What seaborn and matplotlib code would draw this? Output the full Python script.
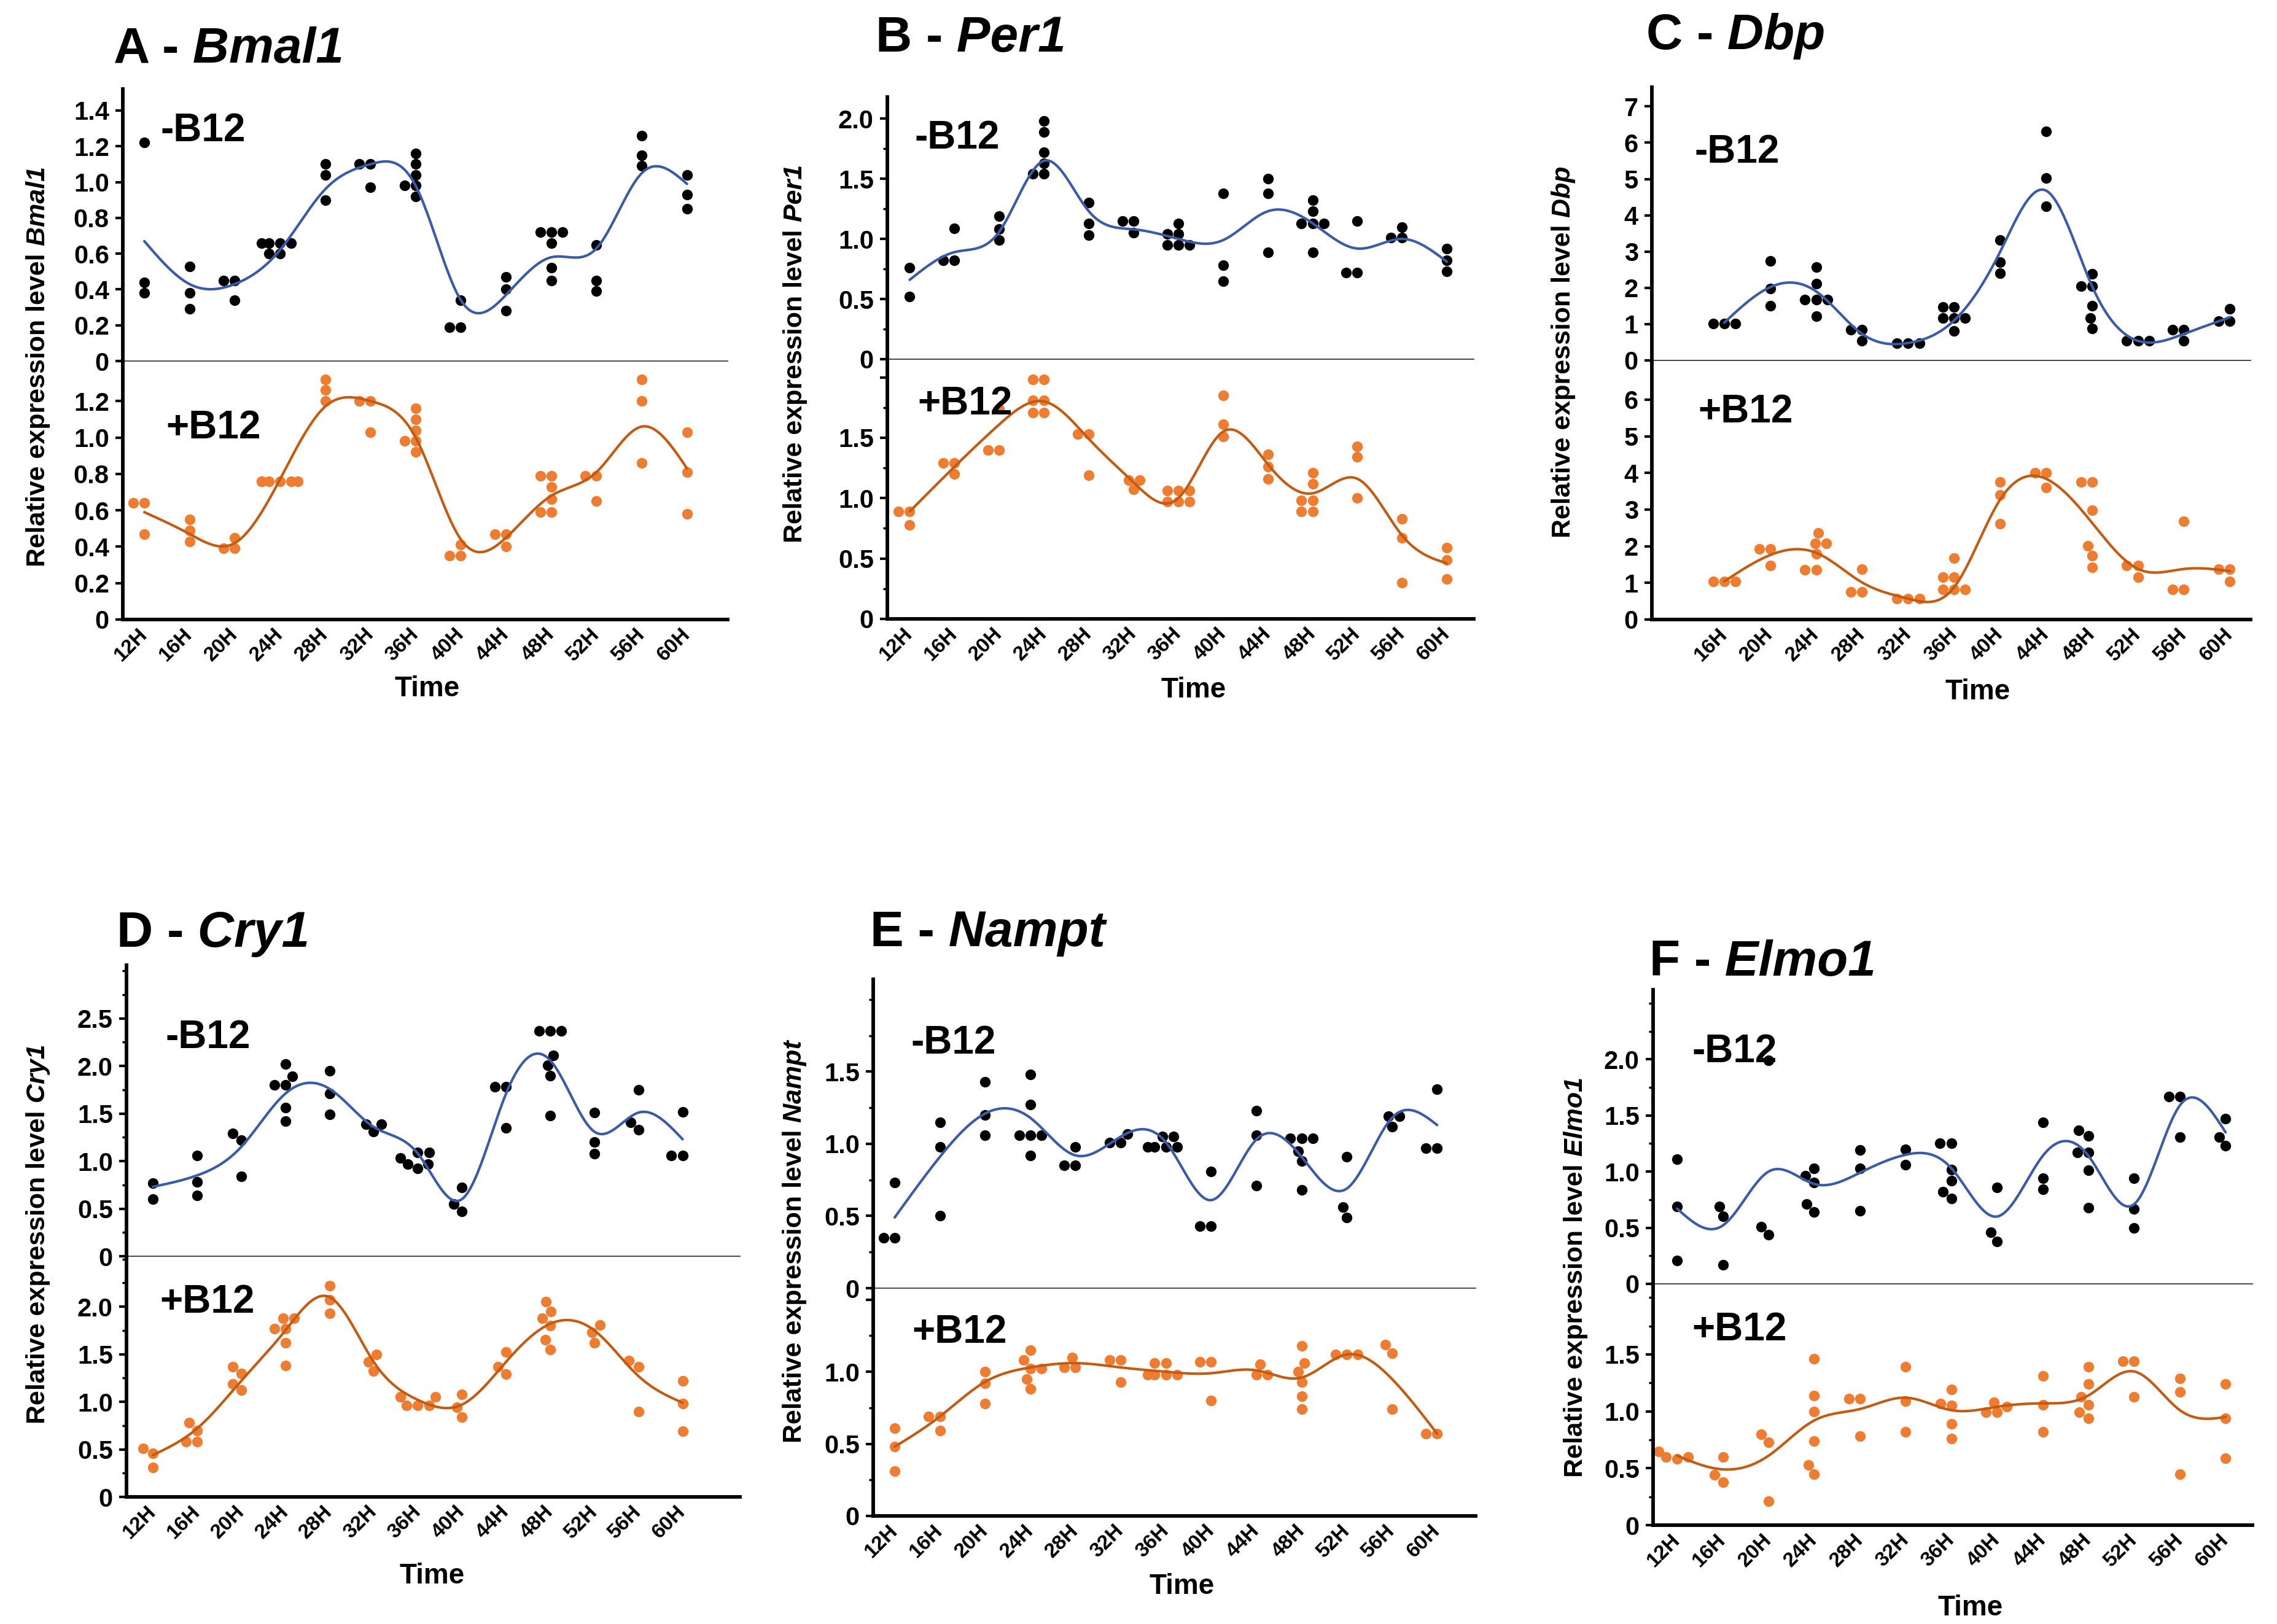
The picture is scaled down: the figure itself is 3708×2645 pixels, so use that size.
import numpy as np
import pandas as pd
import matplotlib
matplotlib.use('Agg')
import matplotlib.pyplot as plt
import seaborn as sns
from matplotlib.transforms import IdentityTransform
from matplotlib.ticker import FixedLocator, FuncFormatter, MultipleLocator

# sampling times (hours)
hours = [12, 16, 20, 24, 28, 32, 36, 40, 44, 48, 52, 56, 60]
hours_dbp = [16, 20, 24, 28, 32, 36, 40, 44, 48, 52, 56, 60]

# ---- A - Bmal1 ----
bmal1_minus = [[1.22, 0.44, 0.38], [0.53, 0.38, 0.29], [0.45, 0.45, 0.34],
               [0.66, 0.66, 0.66, 0.66, 0.60, 0.60], [1.10, 1.04, 0.90], [1.10, 1.10, 0.97],
               [1.16, 1.10, 1.04, 0.98, 0.98, 0.92], [0.34, 0.19, 0.19], [0.47, 0.40, 0.28],
               [0.72, 0.72, 0.72, 0.66, 0.52, 0.45], [0.65, 0.45, 0.39], [1.26, 1.15, 1.09],
               [1.04, 0.93, 0.85]]
bmal1_minus_fit = [0.67, 0.43, 0.43, 0.62, 0.96, 1.10, 0.98, 0.34, 0.37, 0.58, 0.63, 1.05, 0.99]
bmal1_plus = [[0.64, 0.64, 0.47], [0.55, 0.49, 0.43], [0.45, 0.39, 0.39],
              [0.76, 0.76, 0.76, 0.76, 0.76, 0.76], [1.32, 1.26, 1.20], [1.20, 1.20, 1.03],
              [1.16, 1.10, 1.04, 0.98, 0.98, 0.92], [0.41, 0.35, 0.35], [0.47, 0.47, 0.40],
              [0.79, 0.79, 0.73, 0.66, 0.59, 0.59], [0.79, 0.79, 0.65], [1.32, 1.20, 0.86],
              [1.03, 0.81, 0.58]]
bmal1_plus_fit = [0.59, 0.47, 0.42, 0.77, 1.17, 1.20, 1.00, 0.44, 0.45, 0.68, 0.81, 1.06, 0.83]

# ---- B - Per1 ----
per1_minus = [[0.76, 0.52], [1.09, 0.82, 0.82], [1.19, 1.08, 0.99],
              [1.98, 1.89, 1.72, 1.63, 1.54, 1.54], [1.30, 1.13, 1.03], [1.15, 1.15, 1.05],
              [1.13, 1.04, 1.04, 0.95, 0.95, 0.95], [1.38, 0.78, 0.65], [1.50, 1.38, 0.89],
              [1.32, 1.23, 1.13, 1.13, 1.13, 0.89], [1.15, 0.72, 0.72], [1.10, 1.01, 1.01],
              [0.92, 0.82, 0.73]]
per1_minus_fit = [0.66, 0.89, 1.06, 1.65, 1.23, 1.08, 1.00, 0.99, 1.23, 1.13, 0.92, 1.00, 0.81]
per1_plus = [[0.89, 0.89, 0.78], [1.29, 1.29, 1.20], [1.74, 1.40, 1.40],
             [1.98, 1.98, 1.81, 1.81, 1.71, 1.71], [1.53, 1.53, 1.19], [1.15, 1.15, 1.07],
             [1.06, 1.06, 1.06, 0.97, 0.97, 0.97], [1.85, 1.61, 1.51], [1.36, 1.26, 1.16],
             [1.21, 1.12, 0.98, 0.98, 0.89, 0.89], [1.43, 1.34, 1.00], [0.83, 0.67, 0.30],
             [0.59, 0.49, 0.33]]
per1_plus_fit = [0.89, 1.26, 1.61, 1.80, 1.49, 1.13, 1.00, 1.55, 1.28, 1.04, 1.16, 0.69, 0.46]

# ---- C - Dbp ----
dbp_minus = [[1.02, 1.02, 1.02], [2.74, 1.98, 1.51], [2.58, 2.11, 1.67, 1.67, 1.67, 1.22],
             [0.85, 0.85, 0.54], [0.48, 0.48, 0.48], [1.48, 1.48, 1.17, 1.17, 1.17, 0.82],
             [3.32, 2.70, 2.40], [6.31, 5.03, 4.25], [2.38, 2.04, 2.04, 1.51, 1.17, 0.88],
             [0.54, 0.54, 0.54], [0.85, 0.85, 0.54], [1.42, 1.08, 1.08]]
dbp_minus_fit = [1.04, 2.02, 1.90, 0.73, 0.48, 1.10, 2.99, 4.68, 2.05, 0.54, 0.73, 1.19]
dbp_plus = [[1.04, 1.04, 1.04], [1.92, 1.92, 1.47], [2.36, 2.08, 2.08, 1.79, 1.35, 1.35],
            [1.37, 0.75, 0.75], [0.57, 0.57, 0.57], [1.67, 1.16, 1.16, 0.82, 0.82, 0.82],
            [3.75, 3.40, 2.62], [4.01, 4.01, 3.61], [3.76, 3.76, 2.99, 2.01, 1.74, 1.42],
            [1.47, 1.47, 1.16], [2.68, 0.82, 0.82], [1.37, 1.37, 1.04]]
dbp_plus_fit = [1.04, 1.76, 1.82, 1.01, 0.57, 0.88, 3.27, 3.84, 2.64, 1.38, 1.38, 1.32]

# ---- D - Cry1 ----
cry1_minus = [[0.77, 0.60], [1.06, 0.78, 0.64], [1.29, 1.22, 0.84],
              [2.02, 1.89, 1.80, 1.80, 1.56, 1.42], [1.95, 1.71, 1.49], [1.39, 1.39, 1.31],
              [1.09, 1.09, 1.03, 0.97, 0.97, 0.92], [0.72, 0.55, 0.47], [1.78, 1.78, 1.35],
              [2.37, 2.37, 2.37, 2.11, 2.01, 1.90, 1.48], [1.51, 1.20, 1.08], [1.75, 1.41, 1.33],
              [1.52, 1.06, 1.06]]
cry1_minus_fit = [0.73, 0.85, 1.15, 1.71, 1.76, 1.36, 1.08, 0.60, 1.71, 2.06, 1.31, 1.51, 1.23]
cry1_plus = [[0.51, 0.46, 0.31], [0.78, 0.70, 0.58, 0.58], [1.37, 1.30, 1.19, 1.12],
             [1.88, 1.88, 1.77, 1.77, 1.62, 1.38], [2.22, 2.07, 1.93], [1.50, 1.42, 1.32],
             [1.05, 1.05, 1.05, 0.96, 0.96, 0.96], [1.08, 0.94, 0.84], [1.52, 1.37, 1.29],
             [2.05, 1.95, 1.88, 1.80, 1.65, 1.55], [1.81, 1.73, 1.62], [1.43, 1.37, 0.90],
             [1.22, 0.98, 0.69]]
cry1_plus_fit = [0.44, 0.72, 1.22, 1.75, 2.10, 1.42, 1.02, 0.97, 1.42, 1.82, 1.75, 1.27, 0.99]

# ---- E - Nampt ----
nampt_minus = [[0.73, 0.35, 0.35], [1.15, 0.98, 0.50], [1.43, 1.20, 1.06],
               [1.48, 1.27, 1.06, 1.06, 1.06, 0.92], [0.98, 0.85, 0.85], [1.07, 1.01, 1.01],
               [1.05, 1.05, 0.98, 0.98, 0.98, 0.98], [0.81, 0.43, 0.43], [1.23, 1.06, 0.71],
               [1.04, 1.04, 1.04, 0.95, 0.88, 0.68], [0.91, 0.56, 0.49], [1.19, 1.19, 1.12],
               [1.38, 0.97, 0.97]]
nampt_minus_fit = [0.49, 0.91, 1.21, 1.18, 0.92, 1.05, 1.01, 0.61, 1.03, 0.91, 0.69, 1.18, 1.13]
nampt_plus = [[0.61, 0.48, 0.31], [0.69, 0.69, 0.59], [1.00, 0.92, 0.78],
              [1.15, 1.08, 1.02, 1.02, 0.95, 0.88], [1.10, 1.03, 1.03], [1.08, 1.08, 0.93],
              [1.06, 1.06, 0.98, 0.98, 0.98, 0.98], [1.07, 1.07, 0.80], [1.05, 0.98, 0.98],
              [1.18, 1.06, 1.00, 0.93, 0.83, 0.74], [1.12, 1.12, 1.12], [1.19, 1.13, 0.74],
              [0.57, 0.57]]
nampt_plus_fit = [0.48, 0.69, 0.93, 1.03, 1.06, 1.03, 1.00, 0.99, 1.01, 0.96, 1.12, 0.95, 0.57]

# ---- F - Elmo1 ----
elmo1_minus = [[1.11, 0.69, 0.21], [0.69, 0.60, 0.17], [1.99, 0.51, 0.44],
               [1.03, 0.96, 0.90, 0.71, 0.64], [1.19, 1.03, 0.65], [1.20, 1.06],
               [1.25, 1.25, 1.02, 0.92, 0.82, 0.76], [0.86, 0.46, 0.38], [1.44, 0.94, 0.84],
               [1.37, 1.32, 1.17, 1.17, 1.01, 0.68], [0.94, 0.67, 0.50], [1.67, 1.67, 1.31],
               [1.47, 1.31, 1.23]]
elmo1_minus_fit = [0.67, 0.52, 1.00, 0.89, 0.99, 1.15, 1.03, 0.60, 1.14, 1.14, 0.71, 1.59, 1.35]
elmo1_plus = [[0.65, 0.60, 0.60, 0.58], [0.60, 0.44, 0.38], [0.80, 0.73, 0.21],
              [1.46, 1.14, 1.00, 0.74, 0.53, 0.45], [1.11, 1.11, 0.78], [1.39, 1.09, 0.82],
              [1.19, 1.07, 1.05, 0.89, 0.76], [1.08, 1.04, 0.99, 0.99], [1.31, 1.06, 0.82],
              [1.39, 1.24, 1.13, 1.06, 0.99, 0.94], [1.44, 1.44, 1.13], [1.29, 1.17, 0.45],
              [1.24, 0.94, 0.59]]
elmo1_plus_fit = [0.61, 0.49, 0.61, 0.92, 1.02, 1.12, 1.01, 1.04, 1.07, 1.14, 1.35, 1.01, 0.95]

panels = [
    ('A', 'Bmal1', hours, bmal1_minus, bmal1_minus_fit, bmal1_plus, bmal1_plus_fit),
    ('B', 'Per1', hours, per1_minus, per1_minus_fit, per1_plus, per1_plus_fit),
    ('C', 'Dbp', hours_dbp, dbp_minus, dbp_minus_fit, dbp_plus, dbp_plus_fit),
    ('D', 'Cry1', hours, cry1_minus, cry1_minus_fit, cry1_plus, cry1_plus_fit),
    ('E', 'Nampt', hours, nampt_minus, nampt_minus_fit, nampt_plus, nampt_plus_fit),
    ('F', 'Elmo1', hours, elmo1_minus, elmo1_minus_fit, elmo1_plus, elmo1_plus_fit),
]

# layout in output pixels: axes box (left, top, right, zero line, bottom), x limits,
# y limits / ticks for the upper and lower halves, text anchors
layout = {
    'A': dict(box=(200, 145, 1185, 588, 1009), xlim=(10.1, 63.6),
              top=(1.52, [0, .2, .4, .6, .8, 1.0, 1.2, 1.4]), bot=(1.42, [0, .2, .4, .6, .8, 1.0, 1.2]),
              hide=[], minor=None, dec=1, title=(185, 102), ylab=(62, 597), time=(696, 1122),
              minus=(262, 213), plus=(270, 697)),
    'B': dict(box=(1445, 158, 2400, 585, 1008), xlim=(10.0, 62.4),
              top=(2.18, [0, .5, 1.0, 1.5, 2.0]), bot=(2.15, [0, .5, 1.0, 1.5, 2.0]),
              hide=[2.0], minor=0.25, dec=1, title=(1426, 84), ylab=(1295, 576), time=(1944, 1124),
              minus=(1490, 225), plus=(1494, 658)),
    'C': dict(box=(2690, 142, 3665, 587, 1009), xlim=(9.7, 61.8),
              top=(7.53, [0, 1, 2, 3, 4, 5, 6, 7]), bot=(7.07, [0, 1, 2, 3, 4, 5, 6]),
              hide=[], minor=None, dec=0, title=(2681, 80), ylab=(2546, 573), time=(3221, 1127),
              minus=(2760, 248), plus=(2765, 671)),
    'D': dict(box=(206, 1572, 1205, 2046, 2438), xlim=(9.6, 65.2),
              top=(3.06, [0, .5, 1.0, 1.5, 2.0, 2.5]), bot=(2.53, [0, .5, 1.0, 1.5, 2.0]),
              hide=[], minor=0.25, dec=1, title=(190, 1542), ylab=(62, 2010), time=(704, 2567),
              minus=(269, 1690), plus=(260, 2121)),
    'E': dict(box=(1422, 1595, 2403, 2098, 2469), xlim=(10.1, 63.4),
              top=(2.14, [0, .5, 1.0, 1.5]), bot=(1.58, [0, .5, 1.0, 1.5]),
              hide=[1.5], minor=0.25, dec=1, title=(1417, 1541), ylab=(1294, 2022), time=(1925, 2584),
              minus=(1484, 1699), plus=(1485, 2170)),
    'F': dict(box=(2692, 1612, 3668, 2091, 2484), xlim=(9.9, 62.35),
              top=(2.62, [0, .5, 1.0, 1.5, 2.0]), bot=(2.12, [0, .5, 1.0, 1.5]),
              hide=[], minor=0.25, dec=1, title=(2686, 1589), ylab=(2566, 2080), time=(3209, 2619),
              minus=(2755, 1713), plus=(2755, 2166)),
}

BLUE = '#3A5BA9'
ORANGE_LINE = '#C55A11'
ORANGE_DOT = '#EE7D31'

sns.set_style('white')
plt.rcParams['font.family'] = ['Liberation Sans', 'DejaVu Sans']
plt.rcParams['font.weight'] = 'bold'
for key in ('text.color', 'axes.labelcolor', 'xtick.color', 'ytick.color', 'axes.edgecolor'):
    plt.rcParams[key] = 'black'

W, H = 3708, 2645
fig = plt.figure(figsize=(W / 100, H / 100), dpi=100)
PX = IdentityTransform()


def px_axes(left, top, right, bottom):
    return fig.add_axes([left / W, 1 - bottom / H, (right - left) / W, (bottom - top) / H])


def to_frame(hrs, groups):
    rows = [(h, v) for h, g in zip(hrs, groups) for v in g]
    return pd.DataFrame(rows, columns=['hour', 'value'])


def smooth(x, y, xs):
    # natural cubic spline through the fitted values
    x = np.asarray(x, float)
    y = np.asarray(y, float)
    n = len(x)
    h = np.diff(x)
    A = np.zeros((n, n))
    r = np.zeros(n)
    A[0, 0] = A[-1, -1] = 1
    for i in range(1, n - 1):
        A[i, i - 1], A[i, i], A[i, i + 1] = h[i - 1], 2 * (h[i - 1] + h[i]), h[i]
        r[i] = 3 * ((y[i + 1] - y[i]) / h[i] - (y[i] - y[i - 1]) / h[i - 1])
    c = np.linalg.solve(A, r)
    b = (y[1:] - y[:-1]) / h - h * (2 * c[:-1] + c[1:]) / 3
    d = (c[1:] - c[:-1]) / (3 * h)
    k = np.clip(np.searchsorted(x, xs, side='right') - 1, 0, n - 2)
    t = xs - x[k]
    return y[k] + b[k] * t + c[k] * t ** 2 + d[k] * t ** 3


def mixed_text(x, y, parts, size, vertical=False):
    r = fig.canvas.get_renderer()
    objs = []
    for s, st in parts:
        objs.append(fig.text(0, 0, s, fontsize=size, fontweight='bold', fontstyle=st,
                             transform=PX, rotation=90 if vertical else 0,
                             ha='center' if vertical else 'left',
                             va='bottom' if vertical else 'baseline'))
    ext = [o.get_window_extent(r) for o in objs]
    if vertical:
        sizes = [e.height for e in ext]
        pos = (H - y) - sum(sizes) / 2
        for o, s in zip(objs, sizes):
            o.set_position((x, pos))
            pos += s
    else:
        sizes = [e.width for e in ext]
        pos = x
        for o, s in zip(objs, sizes):
            o.set_position((pos, H - y))
            pos += s


def style_y(ax, lim, ticks, hide, minor, dec):
    ax.set_ylim(0, lim)
    ax.yaxis.set_major_locator(FixedLocator(ticks))

    def fmt(v, _):
        if any(abs(v - hv) < 1e-6 for hv in hide):
            return ''
        if abs(v) < 1e-9:
            return '0'
        return f'{v:.{dec}f}'
    ax.yaxis.set_major_formatter(FuncFormatter(fmt))
    if minor:
        ax.yaxis.set_minor_locator(MultipleLocator(minor))
        ax.tick_params(axis='y', which='minor', left=True, direction='out', length=5, width=2.5)
    ax.tick_params(axis='y', which='major', left=True, direction='out', length=9, width=3,
                   labelsize=30, pad=7)
    ax.spines['left'].set_linewidth(4.2)
    ax.spines['right'].set_visible(False)
    ax.spines['top'].set_visible(False)
    ax.set_xlabel('')
    ax.set_ylabel('')
    ax.patch.set_alpha(0)


for letter, gene, hrs, minus, minus_fit, plus, plus_fit in panels:
    cfg = layout[letter]
    L, T, R, Z, B = cfg['box']
    ax_t = px_axes(L, T, R, Z)
    ax_b = px_axes(L, Z, R, B)
    xs = np.linspace(hrs[0], hrs[-1], 500)

    sns.swarmplot(data=to_frame(hrs, minus), x='hour', y='value', native_scale=True,
                  color='black', size=12.5, linewidth=0, warn_thresh=1, ax=ax_t, zorder=2)
    sns.lineplot(x=xs, y=smooth(hrs, minus_fit, xs), color=BLUE, linewidth=3,
                 estimator=None, sort=False, ax=ax_t, zorder=3)
    sns.swarmplot(data=to_frame(hrs, plus), x='hour', y='value', native_scale=True,
                  color=ORANGE_DOT, size=12.5, linewidth=0, warn_thresh=1, ax=ax_b, zorder=2)
    sns.lineplot(x=xs, y=smooth(hrs, plus_fit, xs), color=ORANGE_LINE, linewidth=3,
                 estimator=None, sort=False, ax=ax_b, zorder=3)

    style_y(ax_t, cfg['top'][0], cfg['top'][1], [], cfg['minor'], cfg['dec'])
    style_y(ax_b, cfg['bot'][0], cfg['bot'][1], cfg['hide'], cfg['minor'], cfg['dec'])

    for ax in (ax_t, ax_b):
        ax.set_xlim(*cfg['xlim'])
        ax.set_xticks(hrs)
    ax_t.tick_params(axis='x', bottom=False, labelbottom=False)
    ax_t.spines['bottom'].set_linewidth(1.3)
    ax_t.spines['bottom'].set_color('#3a3a3a')
    ax_b.spines['bottom'].set_linewidth(4.2)
    ax_b.set_xticklabels([f'{h}H' for h in hrs], rotation=45, ha='right', va='center',
                         rotation_mode='anchor', fontsize=24, fontweight='bold')
    ax_b.tick_params(axis='x', length=0, pad=14)

    mixed_text(cfg['title'][0], cfg['title'][1], [(f'{letter} -', 'normal'), (f' {gene}', 'italic')], 59)
    mixed_text(cfg['ylab'][0], cfg['ylab'][1],
               [('Relative expression level', 'normal'), (f' {gene}', 'italic')], 31, vertical=True)
    fig.text(cfg['time'][0], H - cfg['time'][1], 'Time', transform=PX, fontsize=33,
             fontweight='bold', ha='center', va='center')
    fig.text(cfg['minus'][0], H - cfg['minus'][1], '-B12', transform=PX, fontsize=46,
             fontweight='bold', ha='left', va='center')
    fig.text(cfg['plus'][0], H - cfg['plus'][1], '+B12', transform=PX, fontsize=46,
             fontweight='bold', ha='left', va='center')

fig.savefig('out.png', dpi=100, facecolor='white')
